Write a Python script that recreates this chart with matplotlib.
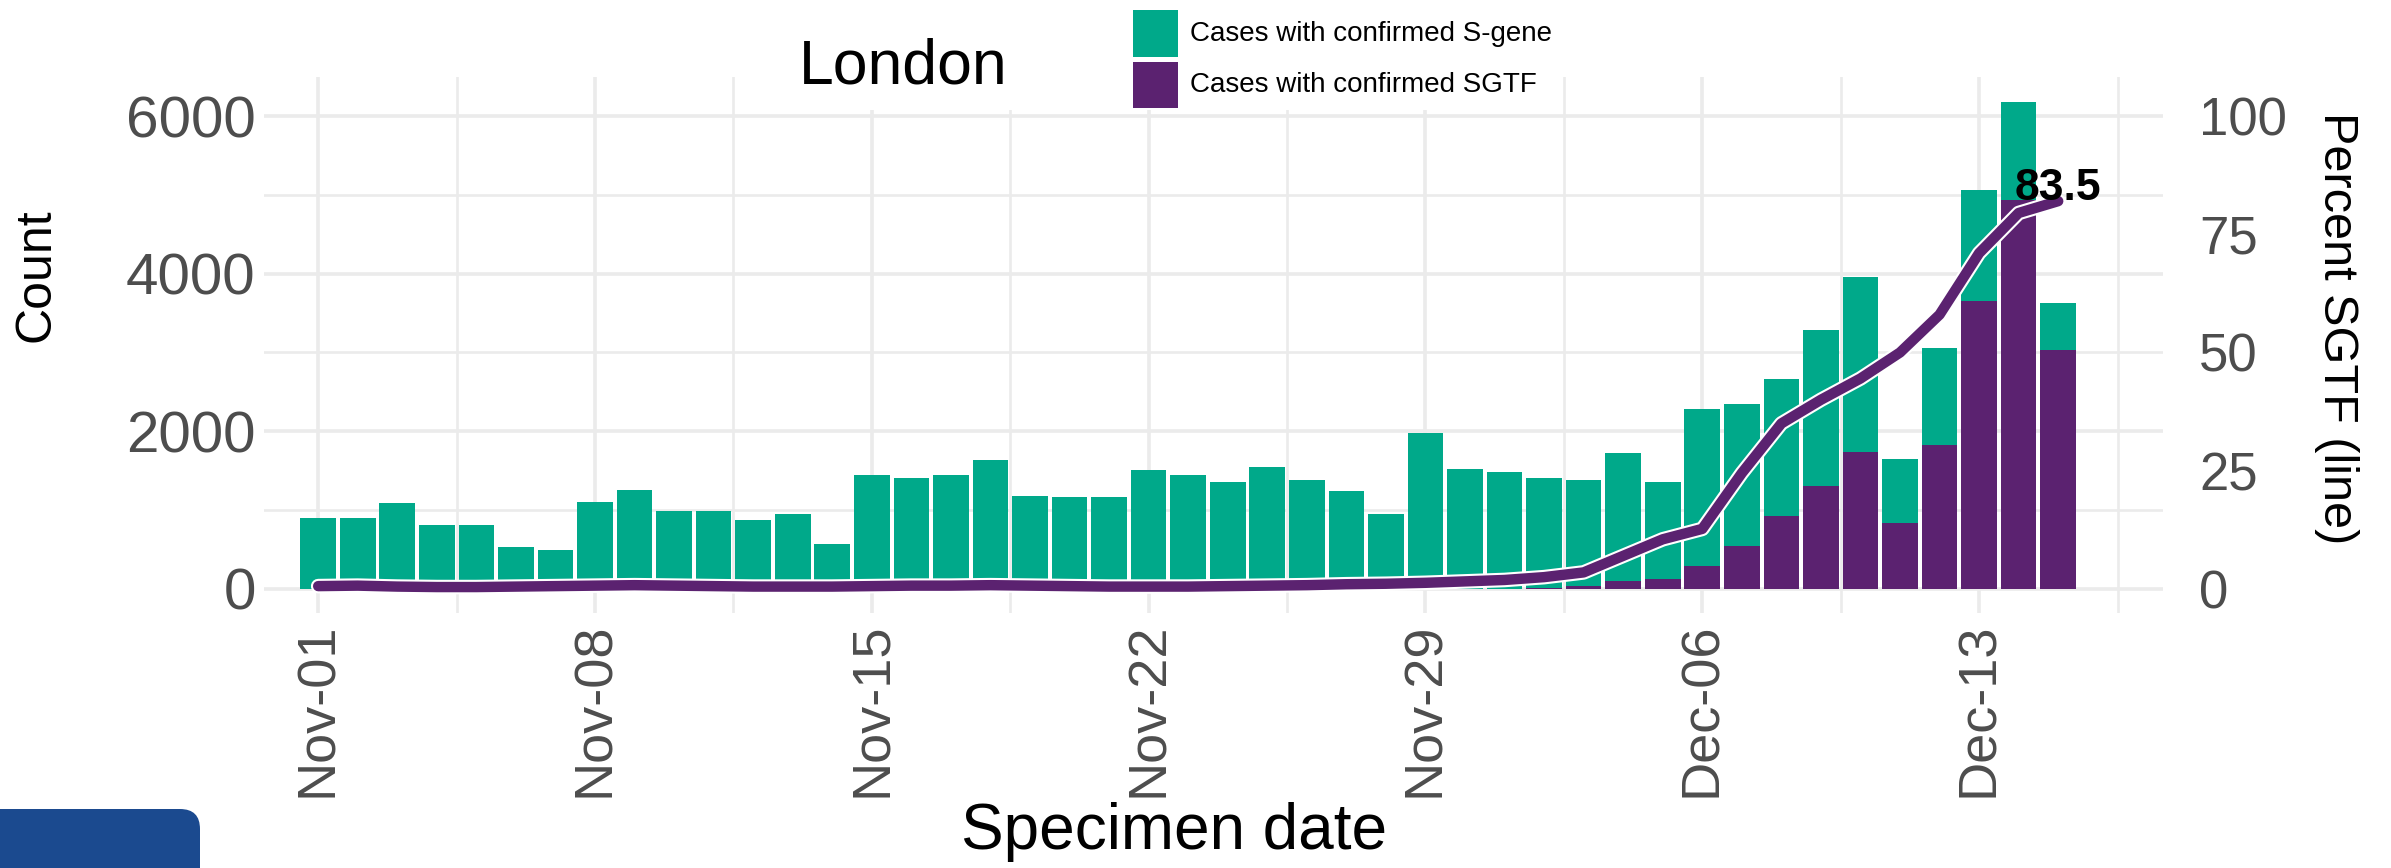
import matplotlib
matplotlib.use("Agg")
import matplotlib.pyplot as plt
import matplotlib.patheffects as pe
from matplotlib.patches import Rectangle, FancyBboxPatch
from matplotlib.transforms import IdentityTransform

plt.rcParams['font.family'] = ['Liberation Sans', 'DejaVu Sans']

# ---------------- data ----------------
dates = ["Nov-01", "Nov-02", "Nov-03", "Nov-04", "Nov-05", "Nov-06", "Nov-07",
         "Nov-08", "Nov-09", "Nov-10", "Nov-11", "Nov-12", "Nov-13", "Nov-14",
         "Nov-15", "Nov-16", "Nov-17", "Nov-18", "Nov-19", "Nov-20", "Nov-21",
         "Nov-22", "Nov-23", "Nov-24", "Nov-25", "Nov-26", "Nov-27", "Nov-28",
         "Nov-29", "Nov-30", "Dec-01", "Dec-02", "Dec-03", "Dec-04", "Dec-05",
         "Dec-06", "Dec-07", "Dec-08", "Dec-09", "Dec-10", "Dec-11", "Dec-12",
         "Dec-13", "Dec-14", "Dec-15"]

total_cases = [905, 905, 1090, 816, 816, 526, 495,
               1105, 1253, 989, 989, 879, 947, 568,
               1447, 1405, 1442, 1642, 1184, 1163, 1163,
               1510, 1440, 1353, 1553, 1379, 1237, 947,
               1974, 1526, 1489, 1410, 1379, 1721, 1353,
               2289, 2342, 2658, 3279, 3958, 1647, 3053,
               5063, 6184, 3631]

sgtf_cases = [0, 0, 0, 0, 0, 0, 0,
              0, 0, 0, 0, 0, 0, 0,
              0, 0, 0, 0, 0, 0, 0,
              0, 0, 0, 0, 0, 0, 0,
              0, 0, 0, 10, 40, 100, 130,
              290, 550, 920, 1300, 1740, 840, 1820,
              3650, 4940, 3030]

percent_sgtf = [0.6, 0.7, 0.5, 0.4, 0.4, 0.5, 0.6,
                0.7, 0.8, 0.7, 0.6, 0.5, 0.5, 0.5,
                0.6, 0.7, 0.7, 0.8, 0.7, 0.6, 0.5,
                0.5, 0.5, 0.6, 0.7, 0.8, 1.0, 1.1,
                1.3, 1.6, 1.9, 2.5, 3.5, 7.0, 10.5,
                12.7, 24.5, 35.0, 40.0, 44.5, 50.0, 58.0,
                71.0, 79.5, 82.0]

label_value = "83.5"
tick_labels = ["Nov-01", "Nov-08", "Nov-15", "Nov-22", "Nov-29", "Dec-06", "Dec-13"]
count_ticks = [0, 2000, 4000, 6000]
pct_ticks = [0, 25, 50, 75, 100]

GREEN = "#00A98A"
PURPLE = "#5B2270"
GRID = "#EBEBEB"
TICKC = "#4D4D4D"

# ---------------- figure ----------------
W, H = 2391, 868
fig = plt.figure(figsize=(W / 100, H / 100), dpi=100)

ax_l, ax_r, ax_t, ax_b = 264, 2163, 77, 612.6
ax = fig.add_axes([ax_l / W, 1 - ax_b / H, (ax_r - ax_l) / W, (ax_b - ax_t) / H])

x = list(range(len(dates)))
s_gene = [t - s for t, s in zip(total_cases, sgtf_cases)]
ax.bar(x, sgtf_cases, width=0.9, color=PURPLE, linewidth=0, zorder=2)
ax.bar(x, s_gene, bottom=sgtf_cases, width=0.9, color=GREEN, linewidth=0, zorder=2)

ax.set_xlim(-1.37, 46.65)
ax.set_ylim(-300, 6495)

tick_pos = [dates.index(t) for t in tick_labels]
ax.set_xticks(tick_pos)
ax.set_xticklabels(tick_labels, rotation=90, fontsize=39, color=TICKC)
ax.set_xticks([p + 3.5 for p in tick_pos], minor=True)
ax.set_yticks(count_ticks)
ax.set_yticklabels([str(v) for v in count_ticks], fontsize=42, color=TICKC)
ax.set_yticks([1000, 3000, 5000], minor=True)
ax.tick_params(which='both', length=0)
ax.tick_params(axis='x', pad=7)
ax.tick_params(axis='y', pad=6)
ax.grid(which='major', color=GRID, linewidth=2.6)
ax.grid(which='minor', color=GRID, linewidth=1.9)
ax.set_axisbelow(True)
for s in ax.spines.values():
    s.set_visible(False)

ax2 = ax.twinx()
ax2.set_ylim(-300 / 60, 6495 / 60)
ax2.plot(x, percent_sgtf, color=PURPLE, linewidth=7.5, solid_capstyle='round',
         solid_joinstyle='round', zorder=3,
         path_effects=[pe.Stroke(linewidth=10.5, foreground='white'), pe.Normal()])
ax2.annotate(label_value, xy=(x[-1], 83.5), xytext=(0, 4), textcoords='offset points',
             ha='center', va='center', fontsize=32, fontweight='bold', color='black',
             annotation_clip=False)
ax2.set_yticks(pct_ticks)
ax2.set_yticklabels([str(v) for v in pct_ticks], fontsize=38, color=TICKC)
ax2.tick_params(which='both', length=0, pad=26)
for s in ax2.spines.values():
    s.set_visible(False)
ax2.grid(False)

# axis titles
fig.text(36 / W, 1 - 275 / H, "Count", rotation=90, ha='center', va='center', fontsize=36)
fig.text(2337 / W, 1 - 328 / H, "Percent SGTF (line)", rotation=270, ha='center', va='center',
         fontsize=35)
fig.text(1174 / W, 1 - 832 / H, "Specimen date", ha='center', va='center', fontsize=46)

# title + legend box
fig.add_artist(Rectangle((780 / W, 1 - 110 / H), (1560 - 780) / W, 110 / H,
                         transform=fig.transFigure, facecolor='white', edgecolor='none', zorder=5))
fig.text(799 / W, 1 - 84 / H, "London", ha='left', va='baseline', fontsize=45, zorder=7)
fig.add_artist(Rectangle((1133 / W, 1 - 57 / H), 45 / W, 47 / H, transform=fig.transFigure,
                         facecolor=GREEN, edgecolor='none', zorder=6))
fig.add_artist(Rectangle((1133 / W, 1 - 108 / H), 45 / W, 46 / H, transform=fig.transFigure,
                         facecolor=PURPLE, edgecolor='none', zorder=6))
fig.text(1190 / W, 1 - 34 / H, "Cases with confirmed S-gene", ha='left', va='center',
         fontsize=20, zorder=7)
fig.text(1190 / W, 1 - 85 / H, "Cases with confirmed SGTF", ha='left', va='center',
         fontsize=20, zorder=7)

# logo fragment bottom-left
fig.add_artist(FancyBboxPatch((-40, -40), 240, 59 + 40,
                              boxstyle='round,pad=0,rounding_size=20',
                              transform=IdentityTransform(), facecolor='#1B4A8F',
                              edgecolor='none', zorder=6))

fig.savefig("out.png", dpi=100)
